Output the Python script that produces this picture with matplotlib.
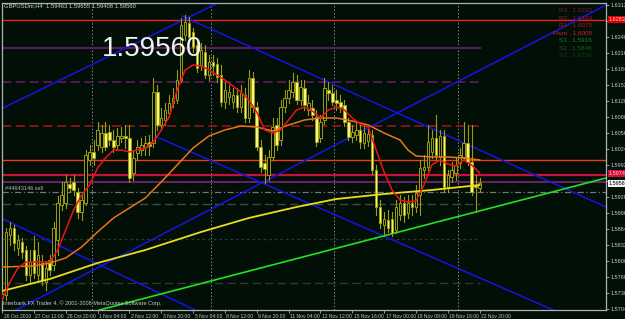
import matplotlib
matplotlib.use('Agg')
import matplotlib.pyplot as plt
from matplotlib.patches import Rectangle
import matplotlib.transforms as mtransforms

plt.rcParams['font.family'] = ['Liberation Sans', 'DejaVu Sans']

# ---- data (GBPUSDm H4) ----
opens = [
    1.5726, 1.5732, 1.5852, 1.5866, 1.5826, 1.5838, 1.5822, 1.5772, 1.5822, 1.5772,
    1.5796, 1.5758, 1.5802, 1.5792, 1.5842, 1.5912, 1.5916, 1.5954, 1.5958, 1.5938,
    1.5898, 1.5916, 1.6002, 1.6018, 1.6032, 1.6028, 1.6056, 1.6058, 1.6042, 1.6032,
    1.6046, 1.6050, 1.6046, 1.5976, 1.6016, 1.6022, 1.6028, 1.6038, 1.6036, 1.6138,
    1.6072, 1.6082, 1.6096, 1.6116, 1.6122, 1.6162, 1.6252, 1.6276, 1.6258, 1.6232,
    1.6192, 1.6218, 1.6172, 1.6198, 1.6194, 1.6172, 1.6118, 1.6128, 1.6118, 1.6132,
    1.6108, 1.6132, 1.6086, 1.6166, 1.6108, 1.6028, 1.5996, 1.5972, 1.6008, 1.6072,
    1.6042, 1.6108, 1.6126, 1.6138, 1.6158, 1.6122, 1.6146, 1.6102, 1.6106, 1.6088,
    1.6046, 1.6082, 1.6142, 1.6136, 1.6122, 1.6118, 1.6112, 1.6078, 1.6048, 1.6052,
    1.6062, 1.6036, 1.6040, 1.6052, 1.5982, 1.5908, 1.5872, 1.5882, 1.5884, 1.5862,
    1.5892, 1.5916, 1.5896, 1.5916, 1.5908, 1.5932, 1.5982, 1.5988, 1.6018, 1.6046,
    1.6008, 1.6050, 1.5948, 1.5968, 1.5976, 1.5996, 1.6008, 1.6036, 1.5998, 1.5952,
    1.59463]
highs = [
    1.5742, 1.5866, 1.5878, 1.5872, 1.5852, 1.5846, 1.5830, 1.5822, 1.5850, 1.5838,
    1.5812, 1.5798, 1.5812, 1.5878, 1.5930, 1.5958, 1.5972, 1.5966, 1.5972, 1.5946,
    1.5932, 1.6022, 1.6032, 1.6042, 1.6078, 1.6072, 1.6078, 1.6072, 1.6062, 1.6066,
    1.6068, 1.6072, 1.6072, 1.6022, 1.6042, 1.6046, 1.6050, 1.6052, 1.6166, 1.6152,
    1.6106, 1.6116, 1.6132, 1.6146, 1.6182, 1.6286, 1.6292, 1.6288, 1.6266, 1.6246,
    1.6236, 1.6232, 1.6212, 1.6212, 1.6206, 1.6192, 1.6158, 1.6152, 1.6146, 1.6146,
    1.6152, 1.6146, 1.6182, 1.6178, 1.6118, 1.6042, 1.6012, 1.6022, 1.6086, 1.6086,
    1.6122, 1.6142, 1.6162, 1.6176, 1.6172, 1.6162, 1.6162, 1.6132, 1.6122, 1.6102,
    1.6092, 1.6166, 1.6158, 1.6152, 1.6142, 1.6132, 1.6122, 1.6086, 1.6072, 1.6076,
    1.6072, 1.6070, 1.6066, 1.6062, 1.5992, 1.5922, 1.5898, 1.5902, 1.5898, 1.5922,
    1.5932, 1.5928, 1.5932, 1.5932, 1.5952, 1.6002, 1.6012, 1.6072, 1.6062, 1.6092,
    1.6062, 1.6062, 1.5982, 1.5998, 1.6006, 1.6026, 1.6078, 1.6072, 1.6072, 1.5972,
    1.59655]
lows = [
    1.5718, 1.5722, 1.5832, 1.5822, 1.5812, 1.5806, 1.5762, 1.5758, 1.5766, 1.5758,
    1.5752, 1.5742, 1.5772, 1.5782, 1.5812, 1.5902, 1.5906, 1.5938, 1.5932, 1.5886,
    1.5882, 1.5912, 1.5992, 1.5992, 1.6022, 1.6018, 1.6022, 1.6032, 1.6018, 1.6022,
    1.6038, 1.6026, 1.5958, 1.5962, 1.6002, 1.6012, 1.6012, 1.6012, 1.6028, 1.6062,
    1.6062, 1.6072, 1.6088, 1.6108, 1.6116, 1.6158, 1.6242, 1.6238, 1.6218, 1.6178,
    1.6182, 1.6166, 1.6162, 1.6172, 1.6158, 1.6110, 1.6106, 1.6114, 1.6106, 1.6098,
    1.6098, 1.6078, 1.6078, 1.6098, 1.6022, 1.5978, 1.5956, 1.5962, 1.6002, 1.6022,
    1.6032, 1.6098, 1.6116, 1.6128, 1.6114, 1.6112, 1.6102, 1.6092, 1.6082, 1.6030,
    1.6038, 1.6074, 1.6122, 1.6112, 1.6102, 1.6098, 1.6070, 1.6042, 1.6038, 1.6042,
    1.6026, 1.6026, 1.6030, 1.5974, 1.5892, 1.5866, 1.5850, 1.5858, 1.5850, 1.5856,
    1.5882, 1.5878, 1.5886, 1.5892, 1.5898, 1.5892, 1.5966, 1.5982, 1.6006, 1.6002,
    1.5992, 1.5938, 1.5938, 1.5958, 1.5962, 1.5986, 1.6002, 1.5992, 1.5932, 1.5898,
    1.59408]
closes = [
    1.5734, 1.5858, 1.5866, 1.5836, 1.5842, 1.5818, 1.5772, 1.5798, 1.5776, 1.5812,
    1.5762, 1.5786, 1.5782, 1.5866, 1.5916, 1.5932, 1.5958, 1.5946, 1.5942, 1.5898,
    1.5922, 1.6012, 1.6018, 1.6006, 1.6062, 1.6056, 1.6028, 1.6042, 1.6028, 1.6050,
    1.6050, 1.6046, 1.5966, 1.6006, 1.6028, 1.6032, 1.6036, 1.6030, 1.6138, 1.6072,
    1.6086, 1.6102, 1.6116, 1.6126, 1.6162, 1.6272, 1.6278, 1.6248, 1.6228, 1.6186,
    1.6222, 1.6172, 1.6198, 1.6190, 1.6168, 1.6118, 1.6142, 1.6138, 1.6132, 1.6108,
    1.6136, 1.6086, 1.6166, 1.6108, 1.6028, 1.5988, 1.5984, 1.6008, 1.6068, 1.6032,
    1.6108, 1.6126, 1.6142, 1.6158, 1.6122, 1.6148, 1.6112, 1.6116, 1.6092, 1.6038,
    1.6078, 1.6146, 1.6136, 1.6118, 1.6116, 1.6108, 1.6078, 1.6048, 1.6058, 1.6062,
    1.6038, 1.6056, 1.6054, 1.5982, 1.5908, 1.5876, 1.5884, 1.5866, 1.5856, 1.5908,
    1.5916, 1.5892, 1.5916, 1.5908, 1.5936, 1.5986, 1.5988, 1.6038, 1.6046, 1.6012,
    1.6050, 1.5948, 1.5972, 1.5982, 1.5992, 1.6012, 1.6036, 1.5998, 1.5938, 1.5948,
    1.59560]

# moving averages, sampled at bar indices
ma_fast_idx = [0, 2, 4, 6, 8, 10, 12, 14, 16, 18, 20, 22, 24, 26, 28, 30, 32, 34, 36, 38,
               40, 42, 44, 46, 48, 50, 52, 54, 56, 58, 60, 62, 64, 66, 68, 70, 72, 74, 76, 78,
               80, 82, 84, 86, 88, 90, 92, 94, 96, 98, 100, 102, 104, 106, 108, 110, 112, 114,
               116, 118, 120]
ma_fast = [1.5722, 1.5758, 1.5786, 1.5798, 1.5798, 1.5798, 1.5798, 1.5822, 1.5862, 1.5902,
           1.5932, 1.5952, 1.5986, 1.6006, 1.6022, 1.6022, 1.6018, 1.6022, 1.6026, 1.6038,
           1.6062, 1.6088, 1.6142, 1.6182, 1.6192, 1.6190, 1.6182, 1.6172, 1.6162, 1.6150,
           1.6138, 1.6122, 1.6098, 1.6062, 1.6056, 1.6062, 1.6082, 1.6102, 1.6108, 1.6100,
           1.6086, 1.6102, 1.6108, 1.6102, 1.6086, 1.6074, 1.6068, 1.6022, 1.5978, 1.5942,
           1.5922, 1.5918, 1.5920, 1.5952, 1.5992, 1.6002, 1.5994, 1.5990, 1.6002, 1.5992,
           1.5976]
ma_mid_idx = [0, 8, 12, 16, 20, 24, 28, 32, 36, 40, 44, 48, 52, 56, 60, 64, 68, 72, 76, 80,
              84, 88, 92, 96, 100, 102, 104, 108, 112, 116, 120]
ma_mid = [1.5788, 1.5790, 1.5796, 1.5806, 1.5828, 1.5858, 1.5886, 1.5906, 1.5926, 1.5958,
          1.5992, 1.6026, 1.6050, 1.6062, 1.6070, 1.6068, 1.6060, 1.6072, 1.6082, 1.6086,
          1.6086, 1.6080, 1.6072, 1.6056, 1.6042, 1.6022, 1.6010, 1.6008, 1.6008, 1.6006,
          1.6002]
ma_slow_idx = [0, 12, 24, 36, 50, 62, 74, 84, 96, 108, 120]
ma_slow = [1.5740, 1.5764, 1.5796, 1.5822, 1.5858, 1.5886, 1.5908, 1.5924, 1.5934, 1.5942,
           1.5952]

# trend lines: (bar, price) anchors, True = extended both ways
blue_lines = [((0.25, 1.6106), (54.25, 1.6316), True),
              ((45.25, 1.6290), (151.75, 1.5908), False),
              ((0.25, 1.5884), (48.5, 1.5702), True),
              ((37.75, 1.6052), (138.5, 1.5702), False),
              ((3.5, 1.5702), (151.75, 1.6312), True)]
green_line = ((24.5, 1.5702), (151.75, 1.5966))

# horizontal levels
full_levels = [1.6283, 1.6002, 1.5972, 1.5958, 1.5938]
full_styles = [('#e82020', '-', 1.0), ('#f03a10', '-', 1.0), ('#c8103c', '-', 1.6),
               ('#6a2068', '-', 1.4), ('#707878', (0, (5, 2, 1, 2)), 0.9)]
pivot_levels = [1.6226, 1.6158, 1.6070, 1.5914, 1.5844, 1.5756]
pivot_styles = [('#5c1a5a', '-', 1.6), ('#6a1a66', (0, (6, 3)), 1.1), ('#a01818', (0, (6, 3)), 1.1),
                ('#3a4a4a', (0, (6, 3)), 1.0), ('#263a2c', (0, (2, 2)), 1.0), ('#2c3a34', (0, (6, 3)), 1.0)]
pivot_end = 120

pivot_names = ['R3', 'R2', 'R1', 'Pivot', 'S1', 'S2', 'S3']
pivot_values = ['1.6233', '1.6163', '1.6075', '1.6005', '1.5916', '1.5846', '1.5756']
pivot_colors = ['#7a1838', '#9a1830', '#b41c1c', '#d82020', '#1f7a1f', '#1a5e1a', '#163e16']

separators = [22.5, 52.5, 83.5, 114.5]
y_ticks = [1.5704, 1.5736, 1.5768, 1.5800, 1.5832, 1.5864, 1.5896, 1.5928, 1.5960, 1.5992,
           1.6024, 1.6056, 1.6088, 1.6120, 1.6152, 1.6184, 1.6216, 1.6248, 1.6280, 1.6312]
hidden_ticks = [1.5960, 1.6280]   # covered by the price labels
x_tick_idx = [0, 8, 16, 24, 32, 40, 48, 56, 64, 72, 80, 88, 96, 104, 112, 120]
x_tick_labels = ['26 Oct 2010', '27 Oct 12:00', '28 Oct 20:00', '1 Nov 04:00', '2 Nov 12:00',
                 '3 Nov 20:00', '5 Nov 04:00', '8 Nov 12:00', '9 Nov 20:00', '11 Nov 04:00',
                 '12 Nov 12:00', '15 Nov 16:00', '17 Nov 00:00', '18 Nov 08:00',
                 '19 Nov 16:00', '22 Nov 20:00']

bg = '#010f07'
olive = '#9c9c12'
bear_fill = '#f6f67a'
W, H = 625, 319

fig = plt.figure(figsize=(W / 100, H / 100), dpi=100, facecolor=bg)
ax = fig.add_axes([2 / W, 9 / H, 604 / W, 307 / H], facecolor=bg)
ax.set_xlim(0.75, 151.75)
ax.set_ylim(1.5702, 1.6316)

for s in ax.spines.values():
    s.set_color('#b0b0b0')
    s.set_linewidth(0.9)

for xs in separators:
    ax.axvline(xs, color='#8a8a8a', ls=(0, (1.5, 2)), lw=0.7, zorder=1)

for lev, (col, ls, lw) in zip(full_levels, full_styles):
    ax.axhline(lev, color=col, ls=ls, lw=lw, zorder=1.5)
for lev, (col, ls, lw) in zip(pivot_levels, pivot_styles):
    ax.plot([0, pivot_end], [lev, lev], color=col, ls=ls, lw=lw, zorder=1.5)

# trend lines
for p1, p2, infinite in blue_lines:
    if infinite:
        ax.axline(p1, p2, color='#1414e6', lw=1.1, zorder=2)
    else:
        ax.plot([p1[0], p2[0]], [p1[1], p2[1]], color='#1414e6', lw=1.1, zorder=2)
ax.axline(green_line[0], green_line[1], color='#22e022', lw=1.2, zorder=2)

# candles
for i, (o, h, l, c) in enumerate(zip(opens, highs, lows, closes)):
    ax.plot([i, i], [l, h], color=olive, lw=0.8, zorder=3)
    lo, hi = min(o, c), max(o, c)
    fill = bear_fill if c < o else bg
    ax.add_patch(Rectangle((i - 0.32, lo), 0.64, max(hi - lo, 0.00008),
                           facecolor=fill, edgecolor=olive, lw=0.7, zorder=3.5))

ax.plot(ma_slow_idx, ma_slow, color='#ecdc1c', lw=1.3, zorder=4)
ax.plot(ma_mid_idx, ma_mid, color='#ec7414', lw=1.1, zorder=4)
ax.plot(ma_fast_idx, ma_fast, color='#ee1414', lw=1.1, zorder=4)

# axes ticks
ax.yaxis.tick_right()
ax.set_yticks(y_ticks)
ax.set_yticklabels(['' if v in hidden_ticks else f'{v:.5f}' for v in y_ticks])
ax.tick_params(axis='y', direction='out', length=2, width=0.6, pad=1.5,
               labelsize=4.0, labelcolor='#c8c8c8', color='#b0b0b0')
ax.set_xticks(x_tick_idx)
ax.set_xticklabels(x_tick_labels)
ax.tick_params(axis='x', direction='out', length=2, width=0.6, pad=1,
               labelsize=3.6, labelcolor='#c8c8c8', color='#b0b0b0')
shift = mtransforms.ScaledTranslation(1.5 / 100, 0, fig.dpi_scale_trans)
for lbl in ax.get_xticklabels():
    lbl.set_ha('left')
    lbl.set_transform(lbl.get_transform() + shift)

# price labels on the right scale
ytr = ax.get_yaxis_transform()
for price, txt, fc, tc in [(1.6283, '1.62830', '#e00000', '#ffd0d0'),
                          (1.5975, '1.59740', '#d0103a', '#ffd0d0'),
                          (1.5955, '1.59560', '#f4f4f4', '#000000')]:
    ax.text(1.004, price, txt, transform=ytr, fontsize=4.0, color=tc, va='center', ha='left',
            clip_on=False, zorder=6,
            bbox=dict(boxstyle='square,pad=0.1', fc=fc, ec='none'))

# texts
fig.text(4 / W, 1 - 6 / H, 'GBPUSDm,H4  1.59463 1.59655 1.59408 1.59560', fontsize=4.2,
         color='#d0d0d0', va='center', ha='left')
fig.text(102 / W, 1 - 56 / H, '1.59560', fontsize=20, color='#f2f2f2', va='baseline', ha='left')
for k, (nm, val, col) in enumerate(zip(pivot_names, pivot_values, pivot_colors)):
    fig.text(592 / W, 1 - (11 + 7.4 * k) / H, f'{nm} . {val}', fontsize=4.6, color=col,
             va='center', ha='right')
fig.text(5 / W, 1 - 188 / H, '#44643146 sell', fontsize=4.0, color='#b8b8b8', va='center', ha='left')
fig.text(3 / W, 1 - 303 / H, 'Interbank FX Trader 4, \u00a9 2001-2008 MetaQuotes Software Corp.',
         fontsize=4.0, color='#c8c8c8', va='center', ha='left')

fig.savefig('out.png', dpi=100, facecolor=bg)
